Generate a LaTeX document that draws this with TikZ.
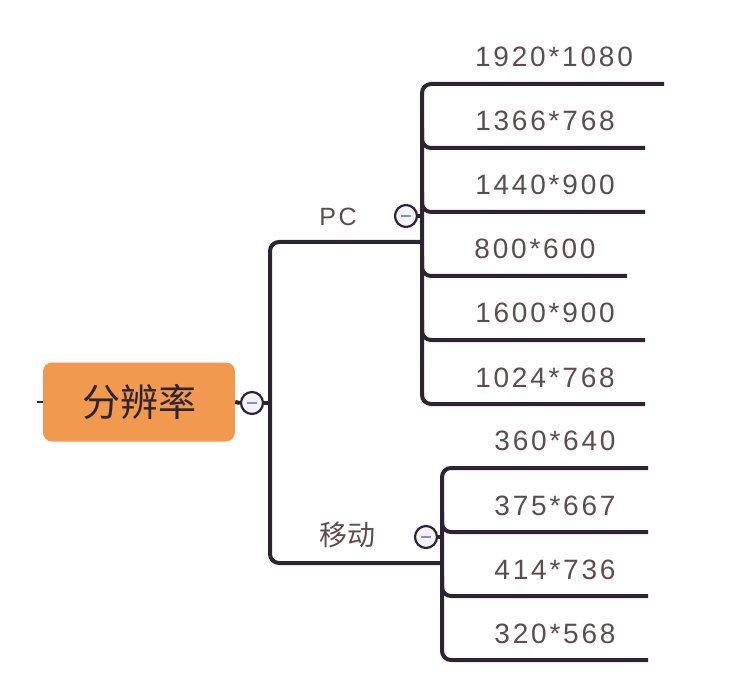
\documentclass[tikz,border=0pt]{standalone}
\usepackage{fontspec}
\setmainfont{Liberation Sans}
\newfontfamily\spaced[LetterSpace=10]{Liberation Sans}
\newfontfamily\cjk{Noto Sans CJK SC}
\definecolor{linec}{HTML}{2E2330}
\definecolor{txtc}{HTML}{5C4C50}
\definecolor{rootc}{HTML}{F0994F}
\definecolor{minusc}{HTML}{7F8FCB}
\definecolor{togfill}{HTML}{F3F3F7}
\tikzset{
  conn/.style={draw=linec, line width=4pt, rounded corners=9pt},
  rootbox/.style={fill=rootc, rounded corners=9pt, minimum width=192pt, minimum height=79pt, inner sep=0pt, text=linec, font=\cjk\fontsize{38}{42}\selectfont},
  tog/.style={circle, draw=linec, line width=2.2pt, fill=togfill, minimum size=22pt, inner sep=0pt},
  lbl/.style={text=txtc, inner sep=0pt, font=\spaced\fontsize{25}{28}\selectfont},
  cnlbl/.style={text=txtc, inner sep=0pt, font=\cjk\fontsize{28}{32}\selectfont},
  leaf/.style={text=txtc, inner sep=0pt, font=\spaced\fontsize{28}{32}\selectfont},
}
\newcommand{\tminus}[1]{\draw[minusc, line width=2pt] ([xshift=-5pt]#1.center) -- ([xshift=5pt]#1.center);}
\begin{document}
\begin{tikzpicture}[x=1pt,y=-1pt]
\useasboundingbox (0,0) rectangle (732,690);
% root
\node[rootbox] (root) at (139,402) {分辨率};
\coordinate (stub) at (37,402);
\draw[linec, line width=2pt] (stub) -- (root.west);
\node[tog] (t0) at (252,403) {};
\tminus{t0}
\draw[conn] (root.east) -- (t0.west);
\coordinate (j0) at (270,403);
\draw[conn] (t0.east) -- (j0);
% main trunk
\coordinate (pcend) at (422,242);
\coordinate (mvend) at (442,563);
\draw[conn] (pcend) -- (270,242) -- (270,563) -- (mvend);
% PC
\node[lbl] (pc) at (338,217) {PC};
\node[tog] (tpc) at (406,216) {};
\tminus{tpc}
\coordinate (jpc) at (422,216);
\draw[conn] (tpc.east) -- (jpc);
% mobile
\node[cnlbl] (mv) at (347,535) {移动};
\node[tog] (tmv) at (426,537) {};
\tminus{tmv}
\coordinate (jmv) at (442,537);
\draw[conn] (tmv.east) -- (jmv);
% PC leaves
\node[leaf] (p1) at (554,57) {1920*1080};
\node[leaf] (p2) at (545,121) {1366*768};
\node[leaf] (p3) at (545,185) {1440*900};
\node[leaf] (p4) at (535,249) {800*600};
\node[leaf] (p5) at (545,313) {1600*900};
\node[leaf] (p6) at (545,378) {1024*768};
\coordinate (e1) at (664,84);
\coordinate (e2) at (645,148);
\coordinate (e3) at (645,212);
\coordinate (e4) at (627,276);
\coordinate (e5) at (645,340);
\coordinate (e6) at (645,404);
\draw[conn] (e1) -- (422,84) -- (422,404) -- (e6);
\draw[conn] (422,128) -- (422,148) -- (e2);
\draw[conn] (422,192) -- (422,212) -- (e3);
\draw[conn] (422,256) -- (422,276) -- (e4);
\draw[conn] (422,320) -- (422,340) -- (e5);
% mobile leaves
\node[leaf] (m1) at (555,441) {360*640};
\node[leaf] (m2) at (555,506) {375*667};
\node[leaf] (m3) at (555,570) {414*736};
\node[leaf] (m4) at (555,634) {320*568};
\coordinate (f1) at (648,468);
\coordinate (f2) at (648,532);
\coordinate (f3) at (648,596);
\coordinate (f4) at (648,660);
\draw[conn] (f1) -- (442,468) -- (442,660) -- (f4);
\draw[conn] (442,512) -- (442,532) -- (f2);
\draw[conn] (442,576) -- (442,596) -- (f3);
\end{tikzpicture}
\end{document}
